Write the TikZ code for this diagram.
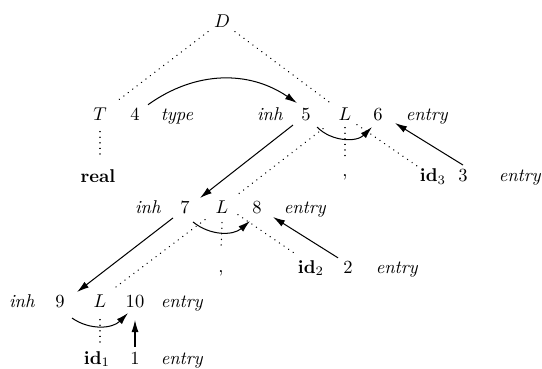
\documentclass[tikz,border=0pt]{standalone}
\usetikzlibrary{arrows.meta}
\begin{document}
\begin{tikzpicture}[x=0.54pt,y=-0.54pt,
 lbl/.style={anchor=base,inner sep=1.5pt},
 tree/.style={line width=0.8pt,dash pattern=on 0.01pt off 3pt,line cap=round},
 dep/.style={line width=0.55pt,-{Latex[length=6.5pt,width=3.8pt]}}]
\useasboundingbox (0,0) rectangle (542,369);
% labels
\node[lbl] (D) at (222,28) {$D$};
\node[lbl] (T) at (100,121) {$T$};
\node[lbl] (n4) at (135,121) {4};
\node[lbl] (type) at (177,121) {\textit{type}};
\node[lbl] (inh5) at (270,121) {\textit{inh}};
\node[lbl] (n5) at (306,121) {5};
\node[lbl] (L1) at (345,121) {$L$};
\node[lbl] (n6) at (378,121) {6};
\node[lbl] (e6) at (427,121) {\textit{entry}};
\node[lbl] (real) at (98,183) {\textbf{real}};
\node[lbl] (c1) at (345,177) {,};
\node[lbl] (id3) at (433,182) {$\mathbf{id}_3$};
\node[lbl] (n3) at (463,182) {3};
\node[lbl] (e3) at (520,182) {\textit{entry}};
\node[lbl] (inh7) at (148,214) {\textit{inh}};
\node[lbl] (n7) at (185,214) {7};
\node[lbl] (L2) at (222,214) {$L$};
\node[lbl] (n8) at (257,214) {8};
\node[lbl] (e8) at (305,214) {\textit{entry}};
\node[lbl] (c2) at (221,272) {,};
\node[lbl] (id2) at (311,273) {$\mathbf{id}_2$};
\node[lbl] (n2) at (348,273) {2};
\node[lbl] (e2) at (397,273) {\textit{entry}};
\node[lbl] (inh9) at (22,307) {\textit{inh}};
\node[lbl] (n9) at (60,307) {9};
\node[lbl] (L3) at (100,307) {$L$};
\node[lbl] (n10) at (135,307) {10};
\node[lbl] (e10) at (182,307) {\textit{entry}};
\node[lbl] (id1) at (97,364) {$\mathbf{id}_1$};
\node[lbl] (n1) at (135,364) {1};
\node[lbl] (e1) at (182,364) {\textit{entry}};
% parse tree (dotted)
\draw[tree] ([shift={(-14,10)}]D.center) -- ([shift={(15,-12)}]T.center);
\draw[tree] ([shift={(13,10)}]D.center) -- ([shift={(-15,-12)}]L1.center);
\draw[tree] ([shift={(0,17)}]T.center) -- ([shift={(2,-25)}]real.base);
\draw[tree] ([shift={(-22,14)}]L1.center) -- ([shift={(13,-11)}]L2.center);
\draw[tree] ([shift={(0,13)}]L1.center) -- ([shift={(0,-20)}]c1.base);
\draw[tree] ([shift={(12,10)}]L1.center) -- ([shift={(-13,-14)}]id3.base);
\draw[tree] ([shift={(-17,12)}]L2.center) -- ([shift={(15,-13)}]L3.center);
\draw[tree] ([shift={(0,15)}]L2.center) -- ([shift={(0,-22)}]c2.base);
\draw[tree] ([shift={(16,7)}]L2.center) -- ([shift={(-14,-18)}]id2.base);
\draw[tree] ([shift={(0,19)}]L3.center) -- ([shift={(3,-20)}]id1.base);
% dependency arrows
\draw[dep] ([shift={(13,-10)}]n4.center) to[bend left=35] ([shift={(-9,-12)}]n5.center);
\draw[dep] ([shift={(11,12)}]n5.center) to[bend right=45] ([shift={(-6,12)}]n6.center);
\draw[dep] ([shift={(-13,10)}]n5.center) -- ([shift={(15,-10)}]n7.center);
\draw[dep] ([shift={(8,14)}]n7.center) to[bend right=40] ([shift={(-7,13)}]n8.center);
\draw[dep] ([shift={(-12,10)}]n7.center) -- ([shift={(17,-9)}]n9.center);
\draw[dep] ([shift={(12,17)}]n9.center) to[bend right=40] ([shift={(-7,12)}]n10.center);
\draw[dep] ([shift={(0,-11)}]n1.center) -- ([shift={(0,19)}]n10.center);
\draw[dep] ([shift={(-10,-9)}]n2.center) -- ([shift={(16,9)}]n8.center);
\draw[dep] ([shift={(0,-11)}]n3.center) -- ([shift={(17,8)}]n6.center);
\end{tikzpicture}
\end{document}
